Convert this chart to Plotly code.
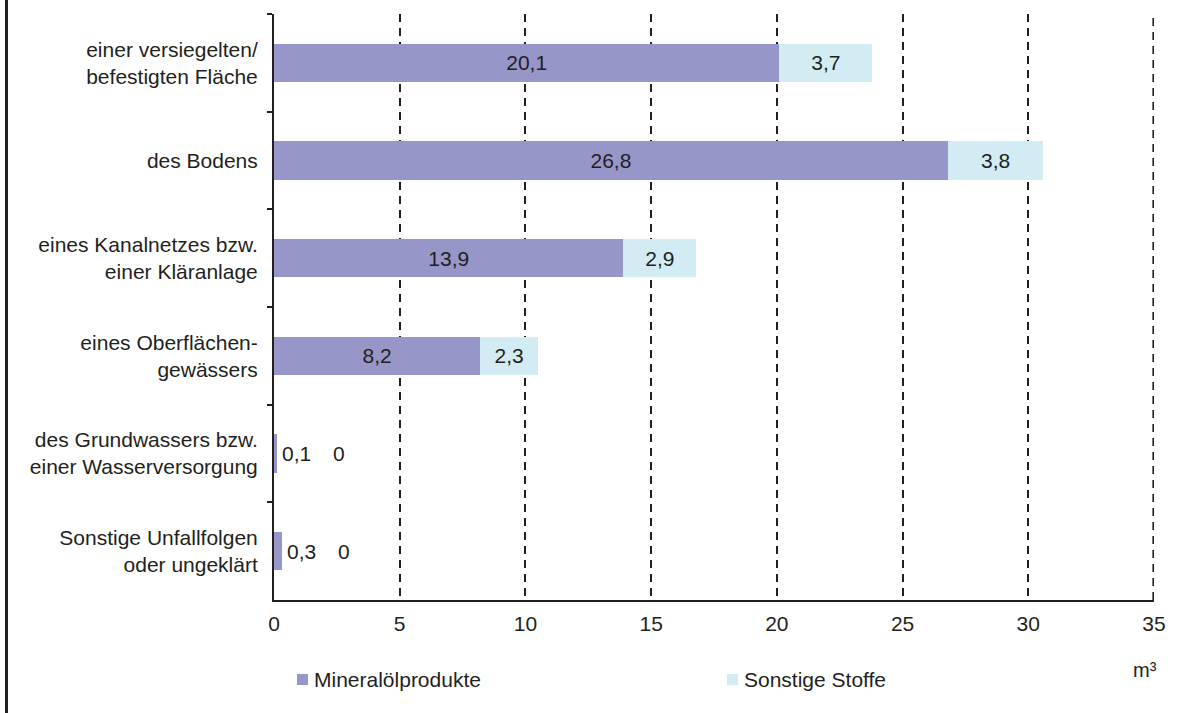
import plotly.graph_objects as go

categories = [
    "einer versiegelten/<br>befestigten Fläche",
    "des Bodens",
    "eines Kanalnetzes bzw.<br>einer Kläranlage",
    "eines Oberflächen-<br>gewässers",
    "des Grundwassers bzw.<br>einer Wasserversorgung",
    "Sonstige Unfallfolgen<br>oder ungeklärt",
]
mineral = [20.1, 26.8, 13.9, 8.2, 0.1, 0.3]
sonstige = [3.7, 3.8, 2.9, 2.3, 0, 0]
x_ticks = [0, 5, 10, 15, 20, 25, 30, 35]

series_names = ["Mineralölprodukte", "Sonstige Stoffe"]
colors = ["#9696c9", "#d3ecf3"]
TXT = "#231f20"
FONT = "Liberation Sans, Arial, sans-serif"
FS = 21


def fmt(v):
    if v == 0:
        return "0"
    return f"{v:.1f}".replace(".", ",")


def inside_labels(vals):
    return [fmt(v) if v >= 1 else "" for v in vals]


fig = go.Figure()
for name, vals, col in zip(series_names, [mineral, sonstige], colors):
    fig.add_trace(go.Bar(
        y=categories, x=vals, orientation="h", name=name,
        marker=dict(color=col, line=dict(width=0)),
        text=inside_labels(vals), textposition="inside",
        insidetextanchor="middle", textangle=0,
        constraintext="none",
        textfont=dict(family=FONT, size=FS, color=TXT),
        showlegend=False,
    ))

annotations = []
# labels for tiny values, placed right of the bar ends
for cat, m, s in zip(categories, mineral, sonstige):
    if m < 1:
        annotations.append(dict(x=m, y=cat, xref="x", yref="y", text=fmt(m),
                                showarrow=False, xanchor="left", xshift=3,
                                font=dict(family=FONT, size=FS, color=TXT)))
    if s < 1:
        annotations.append(dict(x=m + s, y=cat, xref="x", yref="y", text=fmt(s),
                                showarrow=False, xanchor="left", xshift=54,
                                font=dict(family=FONT, size=FS, color=TXT)))

# plot area in pixels: x 274..1154, y 14..600
L, R, T, B = 274, 1154, 14, 600
W, H = R - L, B - T


def px(xp):
    return (xp - L) / W


def py(yp):
    return (B - yp) / H


shapes = []
# gridline at the right range edge (plotly omits it); half of it is clipped
shapes.append(dict(type="line", xref="x", yref="paper",
                   x0=x_ticks[-1], x1=x_ticks[-1], y0=0, y1=1,
                   line=dict(color=TXT, width=3.2, dash="8px,6px"), layer="below"))
# manual legend
leg = [(297, 312, series_names[0], colors[0]), (727, 742, series_names[1], colors[1])]
for sx, tx, name, col in leg:
    shapes.append(dict(type="rect", xref="paper", yref="paper",
                       x0=px(sx), x1=px(sx + 11), y0=py(685), y1=py(674),
                       fillcolor=col, line=dict(width=0)))
    annotations.append(dict(x=px(tx), y=py(679), xref="paper", yref="paper",
                            text=name, showarrow=False, xanchor="left", yanchor="middle",
                            font=dict(family=FONT, size=FS, color=TXT)))

annotations.append(dict(x=px(1145), y=py(670), xref="paper", yref="paper",
                        text="m³", showarrow=False, xanchor="center", yanchor="middle",
                        font=dict(family=FONT, size=FS - 1, color=TXT)))

# left frame line
shapes.append(dict(type="line", xref="paper", yref="paper",
                   x0=px(6.5), x1=px(6.5), y0=py(0), y1=py(713),
                   line=dict(color=TXT, width=3)))

fig.update_layout(
    barmode="stack",
    bargap=0.608,
    width=1203, height=713,
    margin=dict(l=L, r=1203 - R, t=T, b=713 - B, pad=0),
    paper_bgcolor="white", plot_bgcolor="white",
    font=dict(family=FONT, size=FS, color=TXT),
    showlegend=False,
    annotations=annotations,
    shapes=shapes,
)
fig.update_xaxes(
    range=[0, 35], tickvals=x_ticks, ticktext=[str(t) for t in x_ticks],
    showgrid=True, gridcolor=TXT, gridwidth=1.6, griddash="8px,6px",
    showline=True, linecolor=TXT, linewidth=2, zeroline=False,
    ticks="", ticklabelstandoff=4,
    tickfont=dict(family=FONT, size=FS, color=TXT),
)
fig.update_yaxes(
    autorange="reversed", type="category",
    showline=True, linecolor=TXT, linewidth=2,
    ticks="outside", tickson="boundaries", ticklen=5, tickcolor=TXT, tickwidth=2,
    ticklabelstandoff=10,
    showgrid=False, zeroline=False,
    tickfont=dict(family=FONT, size=FS, color=TXT),
)

fig.write_html("out.html")
